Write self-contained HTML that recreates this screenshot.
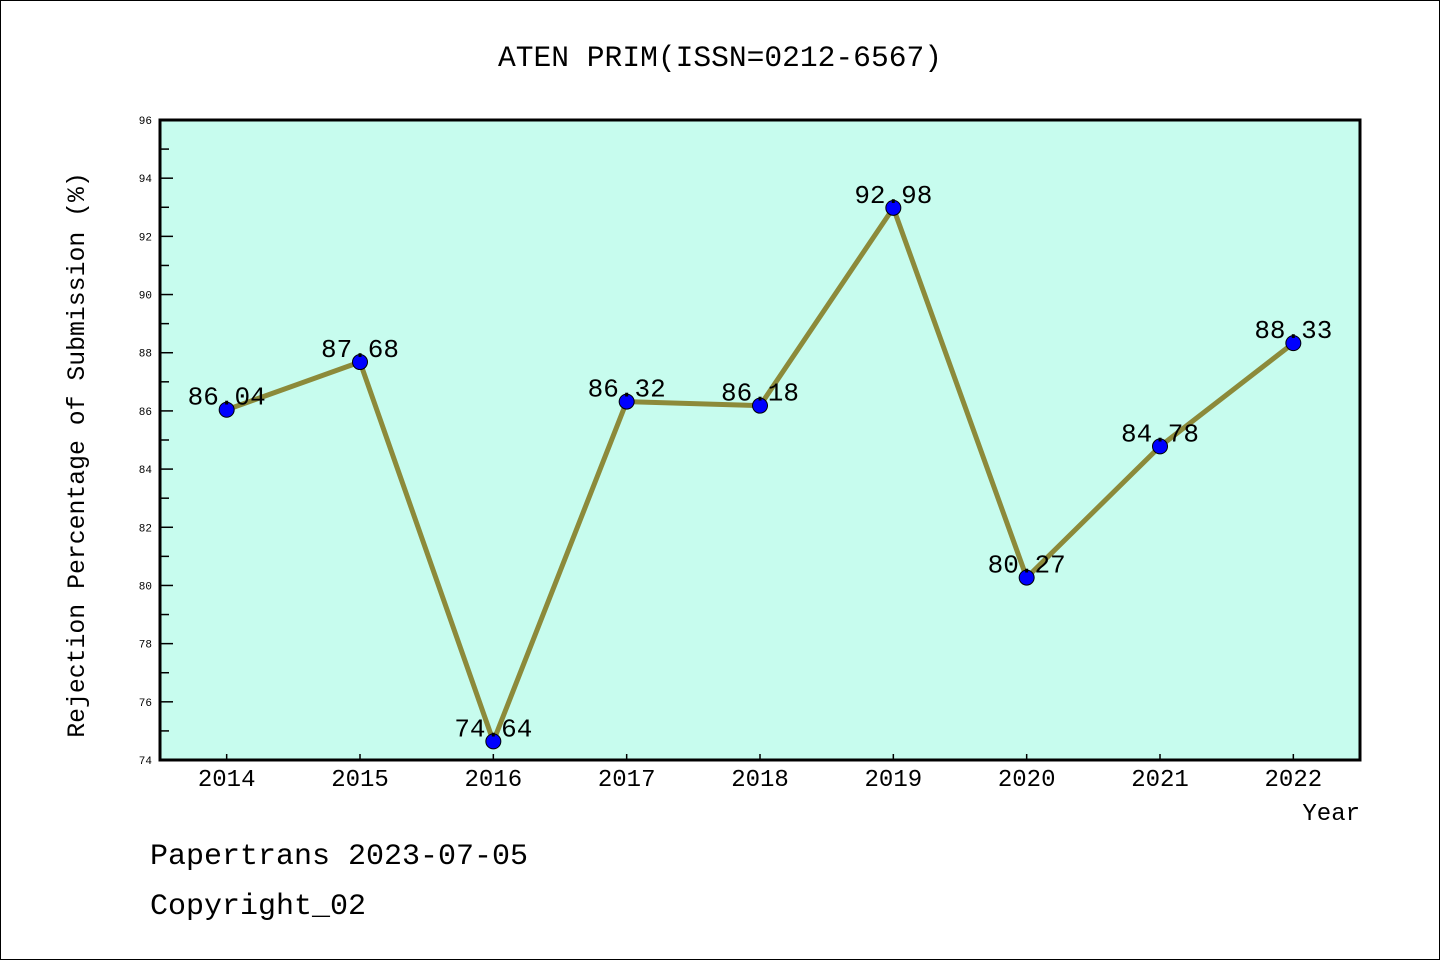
<!DOCTYPE html>
<html><head><meta charset="utf-8"><style>
html,body{margin:0;padding:0;background:#fff}
svg{display:block}
text{font-family:"Liberation Mono",monospace;fill:#000}
</style></head><body>
<svg id="chart" width="1440" height="960" viewBox="0 0 1440 960">
<rect x="0.5" y="0.5" width="1439" height="959" fill="#fff" stroke="#000" stroke-width="1"/>
<text x="720" y="66" font-size="29.6" text-anchor="middle">ATEN PRIM(ISSN=0212-6567)</text>
<rect x="160" y="120" width="1200" height="640" fill="#c7fcee"/>
<g id="ticks"></g>
<g id="series"></g>
<rect x="160" y="120" width="1200" height="640" fill="none" stroke="#000" stroke-width="3"/>
<text transform="translate(84,455) rotate(-90)" font-size="24.8" text-anchor="middle">Rejection Percentage of Submission (%)</text>
<text x="1360" y="820" font-size="24" text-anchor="end">Year</text>
<text x="150" y="864" font-size="30">Papertrans 2023-07-05</text>
<text x="150" y="914" font-size="30">Copyright_02</text>
</svg>
<script>
const years = [2014,2015,2016,2017,2018,2019,2020,2021,2022];
const rates = [86.04,87.68,74.64,86.32,86.18,92.98,80.27,84.78,88.33];
const yTicks = [74,76,78,80,82,84,86,88,90,92,94,96];
const NS = "http://www.w3.org/2000/svg";
const L=160,R=1360,T=120,B=760;
const xs = y => L + (y-2013.5)/9*(R-L);
const ys = v => B - (v-74)/(96-74)*(B-T);
function mk(tag, attrs, parent){const e=document.createElementNS(NS,tag);for(const k in attrs)e.setAttribute(k,attrs[k]);parent.appendChild(e);return e;}
const tg=document.getElementById('ticks');
yTicks.forEach(v=>{
  const y=ys(v);
  const t=mk('line',{x1:L,x2:L+13,y1:y,y2:y,stroke:'#000','stroke-width':1.5},tg);
  
  
  const lb=mk('text',{x:L-8,y:y+4,'font-size':11,'text-anchor':'end','font-family':'Liberation Sans, sans-serif'},tg);
  lb.textContent=v;
  
  
  if(v<96){
    const m=mk('line',{x1:L,x2:L+9,y1:ys(v+1),y2:ys(v+1),stroke:'#000','stroke-width':1.5},tg);
    
    
  }
});
years.forEach(yr=>{
  const x=xs(yr);
  const t=mk('line',{x1:x,x2:x,y1:B,y2:B-6,stroke:'#000','stroke-width':1.5},tg);
  
  
  const lb=mk('text',{x:x,y:B+26,'font-size':24,'text-anchor':'middle'},tg);
  lb.textContent=yr;
  
  
});
const sg=document.getElementById('series');
const pts=years.map((yr,i)=>xs(yr)+','+ys(rates[i])).join(' ');
const line=mk('polyline',{points:pts,fill:'none',stroke:'#8c8a3a','stroke-width':5,'stroke-linejoin':'round'},sg);


years.forEach((yr,i)=>{
  const c=mk('circle',{cx:xs(yr),cy:ys(rates[i]),r:7.5,fill:'#0000ff',stroke:'#000','stroke-width':1},sg);
  
  
  const lb=mk('text',{x:xs(yr),y:ys(rates[i])-5,'font-size':26,'text-anchor':'middle'},sg);
  lb.textContent=rates[i].toFixed(2);
  
  
});
</script>
</body></html>
